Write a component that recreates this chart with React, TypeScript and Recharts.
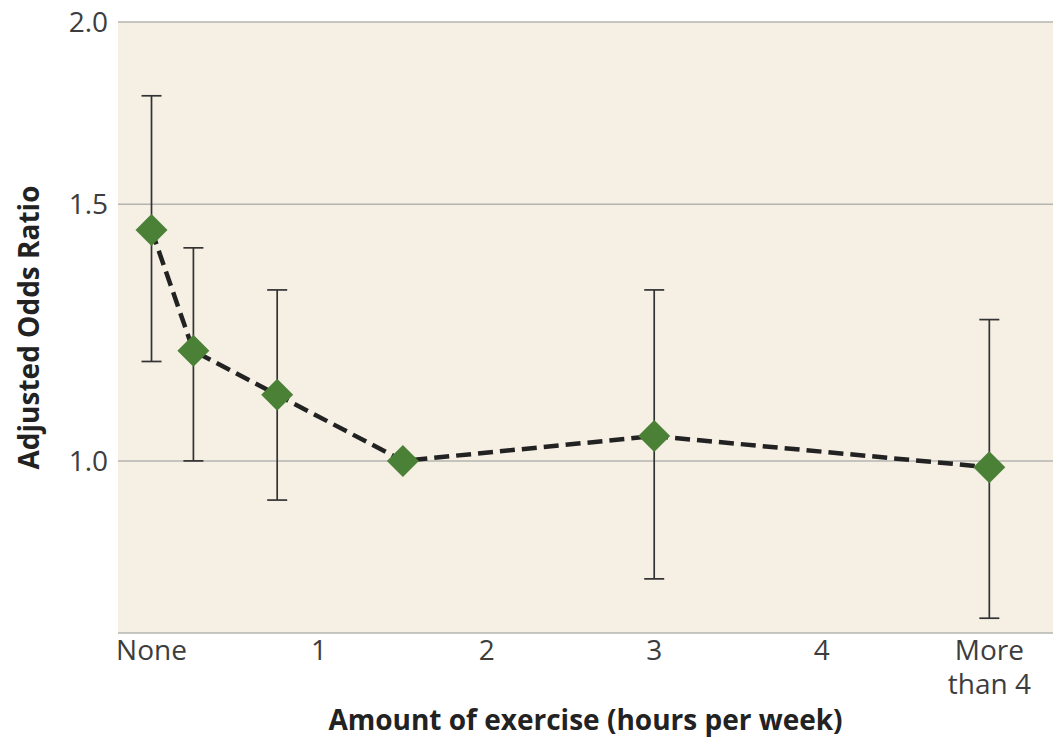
import React from 'react';
import { ComposedChart, Line, ErrorBar, XAxis, YAxis, CartesianGrid, Label } from 'recharts';

const hours = [0, 0.25, 0.75, 1.5, 3, 5];
const oddsRatio = [1.44, 1.19, 1.11, 1.0, 1.04, 0.99];
const ciLow: (number | null)[] = [1.17, 1.0, 0.94, null, 0.83, 0.78];
const ciHigh: (number | null)[] = [1.78, 1.4, 1.31, null, 1.31, 1.25];
const xTicks = [0, 1, 2, 3, 4, 5];
const xTickLabels = ['None', '1', '2', '3', '4', 'More\nthan 4'];
const yTicks = [1.0, 1.5, 2.0];

const data = hours.map((h, i) => ({
    hours: h,
    or: oddsRatio[i],
    err: ciLow[i] == null ? [0, 0] : [oddsRatio[i] - (ciLow[i] as number), (ciHigh[i] as number) - oddsRatio[i]],
}));

const FONT = '"Open Sans", sans-serif';
const TEXT = '#3d3d3d';

function Diamond(props: any) {
    const { cx, cy, index } = props;
    if (cx == null || cy == null) return null;
    const r = 16;
    return <path key={`d-${index}`} d={`M${cx},${cy - r}L${cx + r},${cy}L${cx},${cy + r}L${cx - r},${cy}Z`} fill="#4b8137" />;
}

function XTick(props: any) {
    const { x, y, payload } = props;
    const idx = xTicks.indexOf(payload.value);
    const lines = (idx >= 0 ? xTickLabels[idx] : String(payload.value)).split('\n');
    return (
        <text x={x} y={y} textAnchor="middle" fill={TEXT} fontSize={28} fontFamily={FONT}>
            {lines.map((l, i) => (
                <tspan key={i} x={x} dy={i === 0 ? 19 : 34}>{l}</tspan>
            ))}
        </text>
    );
}

export default function App() {
    return (
        <div style={{ width: 1054, height: 738, background: '#fff' }}>
            <style>{'body{margin:0}'}</style>
            <ComposedChart width={1054} height={738} data={data} margin={{ top: 22, right: 1, bottom: 0, left: 0 }}>
                <CartesianGrid horizontal vertical={false} fill="#f5efe4" stroke="#b4b4b0" strokeWidth={1.5} />
                <XAxis
                    dataKey="hours"
                    type="number"
                    domain={[-0.2, 5.38]}
                    ticks={xTicks}
                    interval={0}
                    height={105}
                    axisLine={false}
                    tickLine={false}
                    tickSize={0}
                    tickMargin={8}
                    tick={<XTick />}
                    allowDataOverflow
                >
                    <Label
                        value="Amount of exercise (hours per week)"
                        position="insideBottom"
                        offset={8}
                        fill="#222"
                        fontSize={28}
                        fontWeight={700}
                        fontFamily={FONT}
                    />
                </XAxis>
                <YAxis
                    scale="log"
                    type="number"
                    domain={[0.762, 2]}
                    ticks={yTicks}
                    allowDataOverflow
                    width={118}
                    axisLine={false}
                    tickLine={false}
                    tickSize={0}
                    tickMargin={10}
                    tickFormatter={(v: number) => v.toFixed(1)}
                    tick={{ fill: TEXT, fontSize: 28, fontFamily: FONT }}
                >
                    <Label
                        value="Adjusted Odds Ratio"
                        angle={-90}
                        position="insideLeft"
                        offset={29}
                        fill="#222"
                        fontSize={28}
                        fontWeight={700}
                        fontFamily={FONT}
                        style={{ textAnchor: 'middle' }}
                    />
                </YAxis>
                <Line
                    dataKey="or"
                    type="linear"
                    stroke="#222"
                    strokeWidth={4.5}
                    strokeDasharray="15 7"
                    dot={<Diamond />}
                    activeDot={false}
                    isAnimationActive={false}
                >
                    <ErrorBar dataKey="err" direction="y" width={10} stroke="#333" strokeWidth={1.7} />
                </Line>
            </ComposedChart>
        </div>
    );
}
